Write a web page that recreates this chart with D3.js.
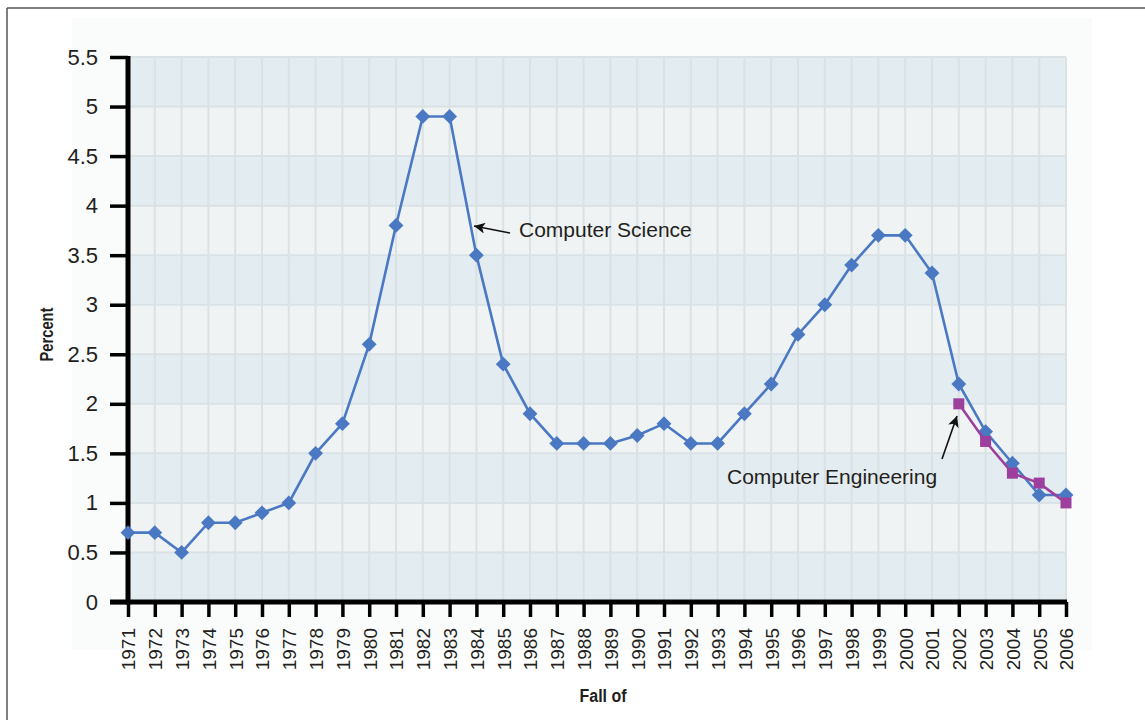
<!DOCTYPE html>
<html>
<head>
<meta charset="utf-8">
<script src="https://cdn.jsdelivr.net/npm/d3@7"></script>
<style>
  html, body { margin: 0; padding: 0; background: #fff; }
  svg { display: block; font-family: Arial, "Liberation Sans", Helvetica, sans-serif; }
</style>
</head>
<body>
<div id="chart"></div>
<script>
// ── Data ────────────────────────────────────────────────────
const years = d3.range(1971, 2007);
const csValues = [0.7, 0.7, 0.5, 0.8, 0.8, 0.9, 1.0, 1.5, 1.8, 2.6, 3.8, 4.9, 4.9, 3.5,
  2.4, 1.9, 1.6, 1.6, 1.6, 1.68, 1.8, 1.6, 1.6, 1.9, 2.2, 2.7, 3.0, 3.4, 3.7, 3.7,
  3.32, 2.2, 1.72, 1.4, 1.08, 1.08];
const ceYears = [2002, 2003, 2004, 2005, 2006];
const ceValues = [2.0, 1.62, 1.3, 1.2, 1.0];
const yTicks = [0, 0.5, 1, 1.5, 2, 2.5, 3, 3.5, 4, 4.5, 5, 5.5];

const W = 1145, H = 720;
const x = d3.scaleLinear().domain([1971, 2006]).range([128, 1066]);
const y = d3.scaleLinear().domain([0, 5.5]).range([602, 57]);

const svg = d3.select('#chart').append('svg')
  .attr('width', W).attr('height', H);

// frame lines (top and left)
svg.append('line').attr('x1', 7).attr('x2', W).attr('y1', 8).attr('y2', 8)
  .attr('stroke', '#555').attr('stroke-width', 1.5);
svg.append('line').attr('x1', 7).attr('x2', 7).attr('y1', 8).attr('y2', H)
  .attr('stroke', '#555').attr('stroke-width', 1.5);

// faint panel behind the plot
svg.append('rect').attr('x', 72).attr('y', 18).attr('width', 1020).attr('height', 632)
  .attr('fill', '#fafbfb');

// ── Plot background bands & grid ────────────────────────────
const bands = d3.range(0, 11);
svg.append('g').selectAll('rect').data(bands).join('rect')
  .attr('x', x(1971)).attr('width', x(2006) - x(1971))
  .attr('y', i => y((i + 1) * 0.5)).attr('height', i => y(i * 0.5) - y((i + 1) * 0.5))
  .attr('fill', i => i % 2 === 0 ? '#e3ecf1' : '#eff3f3');

const grid = svg.append('g').attr('stroke', '#dae2e6').attr('stroke-width', 2);
grid.selectAll('.vg').data(years.slice(1)).join('line')
  .attr('x1', d => x(d)).attr('x2', d => x(d)).attr('y1', y(5.5)).attr('y2', y(0));
grid.selectAll('.hg').data(yTicks.slice(1)).join('line')
  .attr('x1', x(1971)).attr('x2', x(2006)).attr('y1', d => y(d)).attr('y2', d => y(d));

// ── Axes ────────────────────────────────────────────────────
const yAxis = svg.append('g')
  .attr('transform', `translate(${x(1971)},0)`)
  .call(d3.axisLeft(y).tickValues(yTicks).tickSize(18).tickPadding(12).tickFormat(d3.format('')));
yAxis.select('.domain').remove();
yAxis.selectAll('.tick line').attr('stroke', '#000').attr('stroke-width', 3.5);
yAxis.selectAll('.tick text').attr('font-size', 22).attr('fill', '#231f20')
  .attr('font-family', 'Arial, "Liberation Sans", sans-serif');

const xAxis = svg.append('g')
  .attr('transform', `translate(0,${y(0)})`)
  .call(d3.axisBottom(x).tickValues(years).tickSize(15).tickFormat(d3.format('d')));
xAxis.select('.domain').remove();
xAxis.selectAll('.tick line').attr('stroke', '#000').attr('stroke-width', 3.5);
xAxis.selectAll('.tick text')
  .attr('font-size', 19).attr('fill', '#231f20')
  .attr('font-family', 'Arial, "Liberation Sans", sans-serif')
  .attr('text-anchor', 'end')
  .attr('transform', 'rotate(-90)')
  .attr('x', -26).attr('y', 0).attr('dy', '0.36em');

// thick axis lines
svg.append('line').attr('x1', x(1971)).attr('x2', x(1971)).attr('y1', y(5.5) - 1).attr('y2', y(0) + 2.5)
  .attr('stroke', '#000').attr('stroke-width', 5);
svg.append('line').attr('x1', x(1971) - 18).attr('x2', x(2006) + 1).attr('y1', y(0)).attr('y2', y(0))
  .attr('stroke', '#000').attr('stroke-width', 5);

// axis titles (condensed bold)
svg.append('text')
  .attr('transform', `translate(53,${(y(0) + y(5.5)) / 2 + 5}) rotate(-90)`)
  .attr('text-anchor', 'middle')
  .attr('font-size', 18).attr('font-weight', 'bold').attr('fill', '#231f20')
  .attr('textLength', 54).attr('lengthAdjust', 'spacingAndGlyphs')
  .text('Percent');
svg.append('text')
  .attr('x', 603).attr('y', 702)
  .attr('text-anchor', 'middle')
  .attr('font-size', 18).attr('font-weight', 'bold').attr('fill', '#231f20')
  .attr('textLength', 47).attr('lengthAdjust', 'spacingAndGlyphs')
  .text('Fall of');

// ── Series ──────────────────────────────────────────────────
const csData = years.map((yr, i) => ({ yr, v: csValues[i] }));
const ceData = ceYears.map((yr, i) => ({ yr, v: ceValues[i] }));
const line = d3.line().x(d => x(d.yr)).y(d => y(d.v));

const CS_COLOR = '#4a78c2';
const CE_COLOR = '#9d3f9c';

svg.append('path').datum(csData).attr('d', line)
  .attr('fill', 'none').attr('stroke', CS_COLOR).attr('stroke-width', 2.6);
svg.append('g').selectAll('path').data(csData).join('path')
  .attr('transform', d => `translate(${x(d.yr)},${y(d.v)})`)
  .attr('d', d3.symbol().type(d3.symbolDiamond2).size(140)())
  .attr('fill', CS_COLOR);

svg.append('path').datum(ceData).attr('d', line)
  .attr('fill', 'none').attr('stroke', CE_COLOR).attr('stroke-width', 2.6);
svg.append('g').selectAll('rect').data(ceData).join('rect')
  .attr('x', d => x(d.yr) - 5.5).attr('y', d => y(d.v) - 5.5)
  .attr('width', 11).attr('height', 11)
  .attr('fill', CE_COLOR);

// ── Annotations ─────────────────────────────────────────────
svg.append('defs').append('marker')
  .attr('id', 'arrow').attr('viewBox', '0 0 10 10')
  .attr('refX', 10).attr('refY', 5)
  .attr('markerWidth', 11).attr('markerHeight', 11)
  .attr('markerUnits', 'userSpaceOnUse')
  .attr('orient', 'auto')
  .append('path').attr('d', 'M0,0 L10,5 L0,10 L2.5,5 Z').attr('fill', '#111');

svg.append('line')
  .attr('x1', 510).attr('y1', 233).attr('x2', 474).attr('y2', 226)
  .attr('stroke', '#111').attr('stroke-width', 1.6)
  .attr('marker-end', 'url(#arrow)');
svg.append('text')
  .attr('x', 519).attr('y', 237)
  .attr('font-size', 21).attr('fill', '#231f20')
  .text('Computer Science');

svg.append('line')
  .attr('x1', 942).attr('y1', 459).attr('x2', 957).attr('y2', 416)
  .attr('stroke', '#111').attr('stroke-width', 1.6)
  .attr('marker-end', 'url(#arrow)');
svg.append('text')
  .attr('x', 727).attr('y', 484)
  .attr('font-size', 21).attr('fill', '#231f20')
  .text('Computer Engineering');
</script>
</body>
</html>
